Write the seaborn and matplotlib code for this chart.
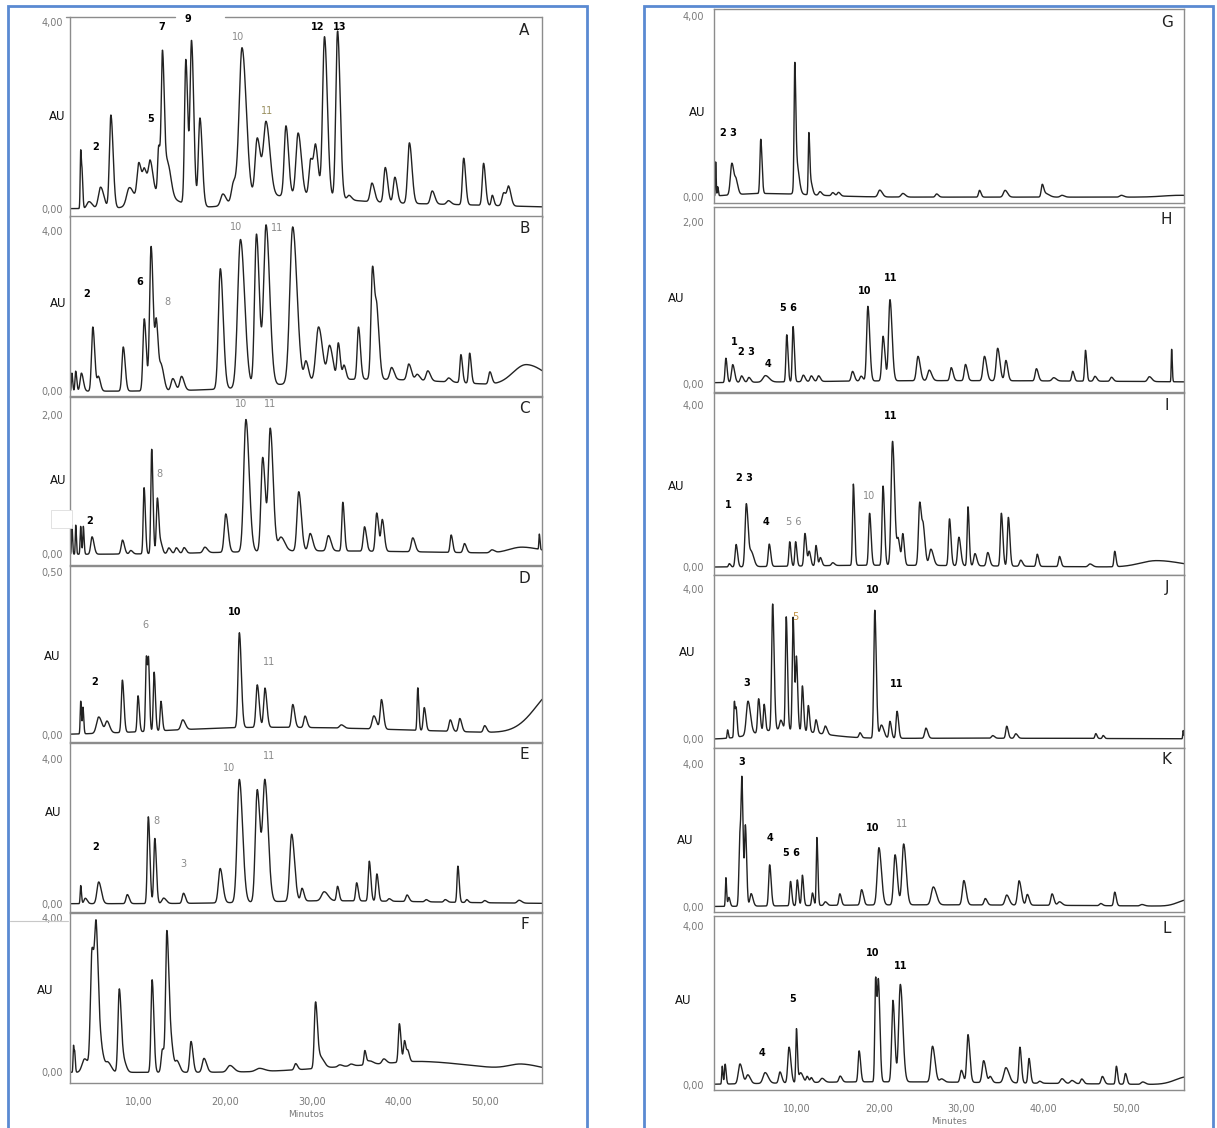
import numpy as np
import pandas as pd
import seaborn as sns
import matplotlib.pyplot as plt
from matplotlib.patches import Rectangle
from matplotlib.lines import Line2D
from matplotlib.ticker import MultipleLocator, FixedLocator

W, H = 1217, 1128

# peak tables: (retention time [min], height [AU], width [min])
peaks_A = [(3.24, 1.25, 0.06), (3.41, 0.6, 0.06), (4.2, 0.15, 0.25), (5.54, 0.46, 0.25), (6.73, 2.0, 0.17),
           (8.85, 0.36, 0.3), (9.96, 0.75, 0.2), (10.62, 0.5, 0.2), (11.28, 0.65, 0.2), (12.26, 1.0, 0.12),
           (12.7, 3.0, 0.14), (13.3, 0.7, 0.25), (15.4, 3.1, 0.15), (16.06, 3.5, 0.17), (17.03, 1.9, 0.18),
           (19.68, 0.25, 0.25), (20.92, 0.45, 0.25), (21.9, 3.3, 0.33), (23.66, 1.3, 0.25), (24.68, 1.6, 0.3),
           (26.98, 1.5, 0.2), (28.39, 1.35, 0.25), (29.85, 0.8, 0.2), (30.43, 1.0, 0.2), (31.44, 3.45, 0.22),
           (32.95, 3.6, 0.2), (34.27, 0.1, 0.2), (36.93, 0.4, 0.2), (38.47, 0.75, 0.18), (39.58, 0.55, 0.18),
           (41.26, 1.3, 0.2), (43.9, 0.28, 0.2), (45.77, 0.08, 0.2), (47.54, 1.0, 0.15), (49.84, 0.9, 0.15),
           (50.85, 0.22, 0.12), (52.18, 0.28, 0.2), (52.75, 0.38, 0.18),
           (11.5, 0.35, 1.6), (26.5, 0.25, 4.0), (40.0, 0.1, 8.0)]
peaks_B = [(2.22, 0.45, 0.06), (2.66, 0.5, 0.08), (3.32, 0.45, 0.15), (4.64, 1.6, 0.15), (5.3, 0.35, 0.15),
           (8.16, 1.1, 0.15), (10.59, 1.8, 0.15), (11.38, 3.6, 0.17), (12.0, 1.6, 0.15), (12.57, 0.6, 0.2),
           (13.89, 0.3, 0.2), (14.9, 0.35, 0.2), (19.39, 3.0, 0.22), (21.72, 3.7, 0.32), (23.57, 3.8, 0.22),
           (24.68, 4.0, 0.28), (27.76, 3.9, 0.33), (29.3, 0.5, 0.2), (30.75, 1.35, 0.3), (32.03, 0.85, 0.25),
           (33.04, 0.9, 0.15), (33.7, 0.35, 0.15), (35.37, 1.3, 0.15), (37.0, 2.8, 0.18), (37.53, 1.4, 0.18),
           (39.2, 0.3, 0.2), (41.19, 0.4, 0.2), (42.16, 0.15, 0.2), (43.39, 0.25, 0.2), (45.8, 0.1, 0.2),
           (47.22, 0.7, 0.12), (48.23, 0.75, 0.12), (50.57, 0.3, 0.15), (54.84, 0.55, 1.6),
           (36.0, 0.3, 9.0)]
peaks_C = [(2.22, 0.42, 0.05), (2.66, 0.42, 0.05), (3.23, 0.4, 0.06), (3.54, 0.4, 0.06), (4.55, 0.25, 0.15),
           (8.07, 0.2, 0.15), (9.03, 0.05, 0.15), (10.57, 0.95, 0.1), (11.45, 1.5, 0.1), (12.11, 0.8, 0.12),
           (12.55, 0.12, 0.12), (13.43, 0.08, 0.15), (14.3, 0.08, 0.15), (15.2, 0.08, 0.15), (17.6, 0.08, 0.2),
           (20.02, 0.55, 0.18), (22.35, 1.9, 0.25), (24.29, 1.35, 0.2), (25.17, 1.75, 0.22), (26.4, 0.2, 0.3),
           (28.46, 0.85, 0.2), (29.78, 0.25, 0.2), (31.89, 0.22, 0.2), (33.56, 0.7, 0.12), (36.07, 0.35, 0.15),
           (37.48, 0.55, 0.15), (38.13, 0.45, 0.15), (41.65, 0.2, 0.18), (46.09, 0.25, 0.12), (47.63, 0.13, 0.15),
           (50.8, 0.04, 0.2), (54.31, 0.09, 1.5), (56.29, 0.22, 0.05),
           (30.0, 0.05, 10.0)]
peaks_D = [(3.24, 0.1, 0.06), (3.5, 0.08, 0.06), (5.32, 0.05, 0.25), (6.29, 0.035, 0.2), (8.06, 0.16, 0.12),
           (9.87, 0.11, 0.1), (10.84, 0.23, 0.1), (11.1, 0.17, 0.08), (11.73, 0.18, 0.1), (12.52, 0.09, 0.1),
           (15.04, 0.03, 0.2), (21.59, 0.29, 0.15), (23.66, 0.13, 0.15), (24.55, 0.12, 0.15), (27.77, 0.07, 0.15),
           (29.19, 0.035, 0.15), (33.39, 0.01, 0.2), (37.15, 0.04, 0.2), (38.03, 0.09, 0.15), (42.23, 0.13, 0.08),
           (42.98, 0.07, 0.12), (45.99, 0.035, 0.15), (47.09, 0.04, 0.15), (49.97, 0.02, 0.15),
           (58.5, 0.14, 2.5), (25.0, 0.025, 12.0)]
peaks_E = [(3.24, 0.5, 0.06), (3.77, 0.15, 0.15), (5.32, 0.6, 0.2), (8.63, 0.25, 0.15), (11.06, 2.4, 0.12),
           (11.81, 1.8, 0.12), (12.83, 0.15, 0.2), (15.13, 0.28, 0.15), (19.37, 0.95, 0.2), (21.59, 3.4, 0.25),
           (23.66, 3.1, 0.22), (24.55, 3.3, 0.25), (27.64, 1.85, 0.22), (28.84, 0.35, 0.15), (31.4, 0.25, 0.3),
           (32.95, 0.4, 0.12), (35.16, 0.5, 0.12), (36.62, 1.1, 0.12), (37.5, 0.75, 0.12), (38.92, 0.07, 0.15),
           (40.99, 0.18, 0.15), (43.2, 0.06, 0.15), (45.41, 0.07, 0.15), (46.87, 1.0, 0.1), (47.89, 0.08, 0.12),
           (49.97, 0.06, 0.15), (53.95, 0.08, 0.2),
           (32.0, 0.08, 8.0)]
peaks_F = [(2.4, 0.7, 0.05), (2.55, 0.45, 0.05), (3.7, 0.35, 0.3), (4.55, 3.1, 0.18), (5.05, 3.3, 0.18),
           (5.65, 0.5, 0.2), (6.4, 0.25, 0.25), (7.7, 2.15, 0.15), (8.2, 0.3, 0.2), (11.5, 2.4, 0.13),
           (12.7, 0.6, 0.15), (13.2, 3.5, 0.14), (13.6, 0.9, 0.2), (14.4, 0.28, 0.2), (16.0, 0.8, 0.15),
           (17.5, 0.36, 0.2), (20.5, 0.17, 0.3), (23.9, 0.08, 0.4), (28.1, 0.16, 0.15), (30.4, 1.65, 0.14),
           (30.9, 0.3, 0.3), (33.2, 0.05, 0.2), (34.5, 0.05, 0.2), (36.1, 0.35, 0.1), (36.6, 0.1, 0.3),
           (38.3, 0.12, 0.2), (40.1, 1.0, 0.12), (40.7, 0.55, 0.12), (41.1, 0.25, 0.12),
           (54.3, 0.15, 1.5), (38.0, 0.18, 7.0), (43.0, 0.12, 3.5)]
peaks_G = [(0.2, 0.75, 0.04), (0.45, 0.2, 0.05), (2.17, 0.7, 0.18), (2.7, 0.25, 0.15), (5.67, 1.2, 0.1),
           (9.79, 2.5, 0.08), (10.0, 0.7, 0.2), (11.5, 1.25, 0.07), (11.7, 0.3, 0.15), (12.85, 0.08, 0.15),
           (14.4, 0.07, 0.15), (15.1, 0.08, 0.15), (20.1, 0.15, 0.2), (22.9, 0.08, 0.2), (27.0, 0.07, 0.15),
           (32.2, 0.15, 0.12), (35.3, 0.15, 0.2), (39.8, 0.25, 0.12), (40.2, 0.08, 0.3), (42.2, 0.04, 0.2),
           (49.4, 0.04, 0.2), (56.5, 0.04, 2.0), (6.0, 0.08, 4.0)]
peaks_H = [(1.44, 0.3, 0.1), (2.27, 0.22, 0.15), (3.34, 0.08, 0.15), (4.23, 0.06, 0.15), (6.24, 0.08, 0.3),
           (8.82, 0.58, 0.1), (9.59, 0.68, 0.1), (10.83, 0.08, 0.15), (11.8, 0.07, 0.15), (12.68, 0.07, 0.15),
           (16.8, 0.12, 0.15), (17.84, 0.06, 0.15), (18.66, 0.92, 0.15), (20.5, 0.55, 0.15), (21.34, 1.0, 0.17),
           (24.74, 0.3, 0.18), (26.1, 0.13, 0.2), (28.77, 0.16, 0.15), (30.5, 0.2, 0.15), (32.8, 0.3, 0.18),
           (34.4, 0.4, 0.18), (35.4, 0.25, 0.15), (39.1, 0.15, 0.15), (41.2, 0.04, 0.2), (43.5, 0.12, 0.12),
           (45.05, 0.38, 0.1), (46.2, 0.06, 0.15), (48.2, 0.05, 0.15), (52.8, 0.06, 0.2), (55.5, 0.4, 0.05),
           (28.0, 0.04, 20.0)]
peaks_I = [(1.86, 0.08, 0.1), (2.68, 0.55, 0.12), (3.92, 1.55, 0.15), (4.54, 0.35, 0.2), (6.7, 0.55, 0.12),
           (9.18, 0.6, 0.1), (9.9, 0.6, 0.1), (11.03, 0.8, 0.12), (11.55, 0.35, 0.12), (12.37, 0.5, 0.1),
           (12.9, 0.2, 0.12), (14.4, 0.07, 0.15), (16.9, 2.0, 0.1), (18.87, 1.28, 0.12), (20.5, 1.95, 0.12),
           (21.65, 3.05, 0.17), (22.35, 0.6, 0.15), (22.9, 0.75, 0.12), (24.95, 1.55, 0.15), (25.4, 0.8, 0.15),
           (26.3, 0.4, 0.2), (28.56, 1.15, 0.12), (29.7, 0.7, 0.15), (30.8, 1.45, 0.1), (31.65, 0.3, 0.15),
           (33.2, 0.33, 0.15), (34.85, 1.3, 0.12), (35.7, 1.2, 0.12), (37.2, 0.15, 0.15), (39.2, 0.3, 0.12),
           (41.9, 0.25, 0.12), (45.6, 0.07, 0.2), (48.6, 0.38, 0.1), (53.7, 0.16, 2.0),
           (20.0, 0.05, 10.0)]
peaks_J = [(1.65, 0.22, 0.06), (2.47, 0.95, 0.07), (2.7, 0.7, 0.08), (4.12, 0.9, 0.2), (5.41, 0.9, 0.12),
           (6.08, 0.72, 0.1), (7.11, 3.35, 0.12), (8.1, 0.25, 0.15), (8.76, 3.0, 0.1), (9.59, 3.0, 0.1),
           (10.0, 1.9, 0.1), (10.72, 1.2, 0.1), (11.44, 0.7, 0.1), (12.37, 0.35, 0.12), (13.5, 0.22, 0.15),
           (17.7, 0.13, 0.12), (19.5, 3.4, 0.12), (20.3, 0.35, 0.2), (21.34, 0.45, 0.12), (22.2, 0.72, 0.12),
           (25.7, 0.27, 0.15), (33.8, 0.07, 0.15), (35.5, 0.32, 0.12), (36.6, 0.12, 0.15), (46.3, 0.13, 0.1),
           (47.2, 0.08, 0.1), (56.9, 0.22, 0.05),
           (8.0, 0.25, 3.0), (30.0, 0.03, 15.0)]
peaks_K = [(1.44, 0.8, 0.06), (1.8, 0.25, 0.1), (3.15, 2.0, 0.12), (3.4, 2.8, 0.1), (3.81, 2.2, 0.1),
           (4.5, 0.35, 0.15), (6.75, 1.15, 0.12), (9.28, 0.68, 0.1), (10.1, 0.72, 0.1), (10.72, 0.85, 0.1),
           (11.94, 0.35, 0.1), (12.48, 1.9, 0.08), (13.5, 0.1, 0.15), (15.26, 0.32, 0.12), (17.9, 0.43, 0.15),
           (20.0, 1.6, 0.2), (21.96, 1.4, 0.18), (23.0, 1.7, 0.2), (26.6, 0.5, 0.25), (30.3, 0.68, 0.18),
           (32.9, 0.18, 0.15), (35.5, 0.28, 0.2), (37.0, 0.68, 0.18), (38.0, 0.3, 0.15), (41.0, 0.32, 0.15),
           (41.9, 0.1, 0.2), (46.9, 0.06, 0.15), (48.6, 0.38, 0.12), (51.9, 0.04, 0.2), (57.5, 0.18, 1.2),
           (25.0, 0.06, 15.0)]
peaks_L = [(1.0, 0.45, 0.06), (1.35, 0.5, 0.08), (3.15, 0.5, 0.2), (4.1, 0.22, 0.2), (6.2, 0.27, 0.25),
           (8.0, 0.28, 0.15), (9.1, 0.9, 0.15), (10.0, 1.35, 0.08), (10.5, 0.25, 0.2), (11.3, 0.15, 0.12),
           (11.8, 0.12, 0.12), (13.1, 0.1, 0.2), (15.3, 0.15, 0.15), (17.6, 0.78, 0.12), (19.6, 2.6, 0.1),
           (19.95, 2.4, 0.12), (21.7, 2.05, 0.15), (22.6, 2.45, 0.2), (26.5, 0.9, 0.2), (27.6, 0.08, 0.2),
           (30.0, 0.3, 0.15), (30.8, 1.2, 0.15), (32.7, 0.55, 0.18), (33.5, 0.15, 0.15), (35.4, 0.38, 0.25),
           (37.1, 0.9, 0.12), (38.2, 0.62, 0.12), (39.5, 0.05, 0.15), (42.2, 0.12, 0.2), (43.4, 0.08, 0.2),
           (44.6, 0.12, 0.15), (47.1, 0.19, 0.15), (48.8, 0.45, 0.1), (49.9, 0.27, 0.12), (52.0, 0.06, 0.2),
           (57.5, 0.2, 1.5), (20.0, 0.08, 12.0)]

# peak number labels: (text, time, AU, colour)
GR = "#8a8a8a"
labels_A = [("2", 5.0, 1.32, "k"), ("5", 11.28, 1.93, "k"), ("7", 12.61, 3.9, "k"), ("9", 15.62, 4.07, "k"),
            ("10", 21.45, 3.68, GR), ("11", 24.77, 2.1, "#9a9060"), ("12", 30.65, 3.9, "k"), ("13", 33.17, 3.9, "k")]
labels_B = [("2", 3.98, 2.43, "k"), ("6", 10.06, 2.72, "k"), ("8", 13.23, 2.23, GR), ("10", 21.24, 4.1, GR),
            ("11", 26.0, 4.08, GR)]
labels_C = [("2", 4.29, 0.48, "k"), ("8", 12.33, 1.15, GR), ("10", 21.78, 2.16, GR), ("11", 25.17, 2.16, GR)]
labels_D = [("2", 4.87, 0.163, "k"), ("6", 10.75, 0.337, GR), ("10", 21.0, 0.377, "k"), ("11", 25.0, 0.224, GR)]
labels_E = [("2", 5.0, 1.56, "k"), ("8", 11.95, 2.28, GR), ("3", 15.17, 1.1, GR), ("10", 20.44, 3.74, GR),
            ("11", 25.0, 4.07, GR)]
labels_F = []
labels_G = [("2 3", 1.8, 1.42, "k")]
labels_H = [("1", 2.45, 0.52, "k"), ("2 3", 3.92, 0.39, "k"), ("4", 6.55, 0.25, "k"), ("5 6", 9.04, 0.93, "k"),
            ("10", 18.3, 1.15, "k"), ("11", 21.4, 1.3, "k")]
labels_I = [("1", 1.69, 1.53, "k"), ("2 3", 3.7, 2.2, "k"), ("4", 6.32, 1.12, "k"), ("5 6", 9.66, 1.12, GR),
            ("10", 18.84, 1.75, GR), ("11", 21.4, 3.73, "k")]
labels_J = [("3", 3.92, 1.5, "k"), ("5", 9.9, 3.26, "#c09040"), ("10", 19.24, 3.97, "k"), ("11", 22.17, 1.46, "k")]
labels_K = [("3", 3.38, 4.05, "k"), ("4", 6.85, 1.93, "k"), ("5 6", 9.37, 1.52, "k"), ("10", 19.29, 2.2, "k"),
            ("11", 22.8, 2.33, GR)]
labels_L = [("4", 5.8, 0.81, "k"), ("5", 9.54, 2.16, "k"), ("10", 19.25, 3.33, "k"), ("11", 22.67, 2.98, "k")]

panel_names = list("ABCDEFGHIJKL")
panel_peaks = [peaks_A, peaks_B, peaks_C, peaks_D, peaks_E, peaks_F,
               peaks_G, peaks_H, peaks_I, peaks_J, peaks_K, peaks_L]
panel_labels = [labels_A, labels_B, labels_C, labels_D, labels_E, labels_F,
                labels_G, labels_H, labels_I, labels_J, labels_K, labels_L]
panel_max = [4.0, 4.0, 2.0, 0.5, 4.0, 4.0, 4.0, 2.0, 4.0, 4.0, 4.0, 4.0]
xticks_min = [10, 20, 30, 40, 50]

# layout in pixels
left_x, right_x = (70, 542), (714, 1184)
boxes = [(17, 217), (216, 396), (397, 565), (566, 742), (743, 912), (913, 1083),
         (9, 203), (207, 392), (393, 575), (575, 748), (748, 912), (916, 1090)]
ylims = [(-0.18, 4.11), (-0.12, 4.37), (-0.153, 2.26), (-0.02, 0.518), (-0.23, 4.44), (-0.276, 4.13),
         (-0.13, 4.16), (-0.1, 2.18), (-0.19, 4.29), (-0.23, 4.37), (-0.14, 4.44), (-0.126, 4.25)]
au_pos = [(57, 117), (58, 304), (58, 481), (52, 657), (53, 813), (45, 991),
          (697, 113), (676, 299), (676, 486), (687, 652), (685, 841), (683, 1000)]


def trace(peaks, t):
    y = np.zeros_like(t)
    for t0, h, w in peaks:
        s = np.where(t < t0, w, 1.5 * w)
        y += h * np.exp(-0.5 * ((t - t0) / s) ** 2)
    return y


frames = []
for i, name in enumerate(panel_names):
    lo, hi = (2.0, 56.6) if i < 6 else (0.0, 57.0)
    t = np.linspace(lo, hi, 4000)
    frames.append(pd.DataFrame({"panel": name, "time": t, "AU": trace(panel_peaks[i], t)}))
df = pd.concat(frames, ignore_index=True)

sns.set_style("white")
plt.rcParams["font.family"] = ["DejaVu Sans"]

fig = plt.figure(figsize=(W / 100, H / 100), dpi=100)


def fx(x):
    return x / W


def fy(y):
    return 1 - y / H


spine_c = "#8c8c8c"
for i, name in enumerate(panel_names):
    xl, xr = left_x if i < 6 else right_x
    top, bot = boxes[i]
    ax = fig.add_axes([fx(xl), fy(bot), (xr - xl) / W, (bot - top) / H])
    sub = df[df["panel"] == name]
    sns.lineplot(data=sub, x="time", y="AU", ax=ax, color="#222222", linewidth=1.0,
                 estimator=None, legend=False)
    lo, hi = (2.0, 56.6) if i < 6 else (0.0, 57.0)
    ax.set_xlim(lo, hi)
    ax.set_ylim(*ylims[i])
    ax.set_xlabel("")
    ax.set_ylabel("")
    for s in ax.spines.values():
        s.set_color(spine_c)
        s.set_linewidth(1.0)
    m = panel_max[i]
    ax.yaxis.set_major_locator(FixedLocator([0, m]))
    ax.set_yticklabels([f"{v:.2f}".replace(".", ",") for v in [0, m]])
    ax.tick_params(axis="y", length=0, pad=5 if i < 6 else 7, labelsize=7, labelcolor="#7a7a7a")
    if name in ("F", "L"):
        ax.xaxis.set_major_locator(FixedLocator(xticks_min))
        ax.xaxis.set_minor_locator(MultipleLocator(2))
        ax.set_xticklabels([f"{v:.2f}".replace(".", ",") for v in xticks_min])
        ax.tick_params(axis="x", which="major", length=4, width=0.8, color=spine_c, direction="out",
                       labelsize=7, labelcolor="#7a7a7a", pad=6)
        ax.tick_params(axis="x", which="minor", length=2.5, width=0.8, color=spine_c, direction="out")
        ax.set_xlabel("Minutos" if name == "F" else "Minutes", fontsize=6.5, color="#7a7a7a", labelpad=2)
    else:
        ax.set_xticks([])
    if name == "A":
        ax.spines["top"].set_visible(False)
        ax.plot([-0.008, 0.223], [1, 1], transform=ax.transAxes, color=spine_c, lw=1.0, clip_on=False)
        ax.plot([0.328, 1.0], [1, 1], transform=ax.transAxes, color=spine_c, lw=1.0, clip_on=False)
    ax.text(0.963, 0.93, name, transform=ax.transAxes, ha="center", va="center", fontsize=11, color="#222222")
    for txt, tx, ty, c in panel_labels[i]:
        ax.text(tx, ty, txt, ha="center", va="center", fontsize=7, color=c,
                fontweight="bold" if c == "k" else "normal", clip_on=False)
    fig.text(fx(au_pos[i][0]), fy(au_pos[i][1]), "AU", ha="center", va="center", fontsize=8.5, color="#111111")

# white patch over the axis in panel C and stray rule near panel F
fig.patches.append(Rectangle((fx(51), fy(528)), (72 - 51) / W, (528 - 510) / H, transform=fig.transFigure,
                             facecolor="white", edgecolor="#dddddd", linewidth=0.6, zorder=10))
fig.lines.append(Line2D([fx(10), fx(68)], [fy(921), fy(921)], transform=fig.transFigure,
                        color="#c8c8c8", linewidth=0.8))

# blue frames around the two columns
blue = "#5a8ad2"
for x0, x1 in [(8, 587), (644, 1213)]:
    fig.patches.append(Rectangle((fx(x0), -0.05), (x1 - x0) / W, fy(6) + 0.05, transform=fig.transFigure,
                                 facecolor="none", edgecolor=blue, linewidth=2.0, zorder=0))

fig.savefig("out.png", dpi=100)
